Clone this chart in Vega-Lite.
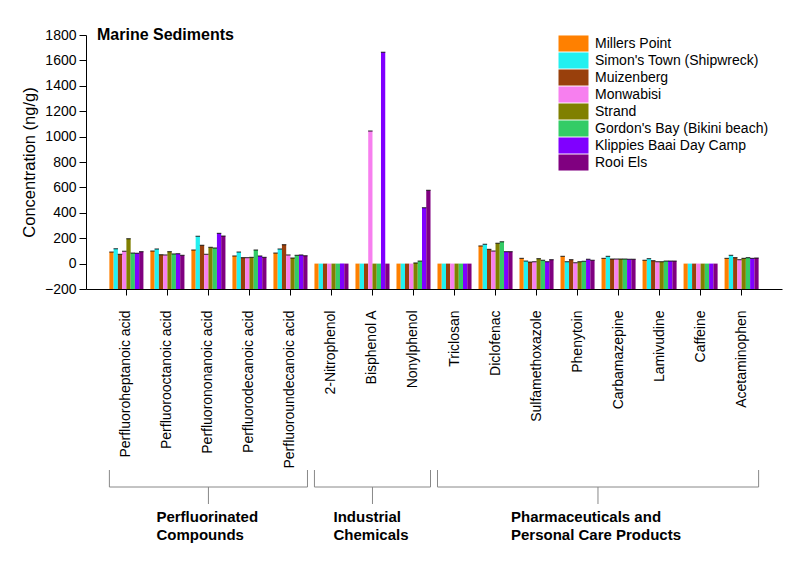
{
  "$schema": "https://vega.github.io/schema/vega-lite/v6.json",
  "background": "white",
  "padding": {"left": 21, "top": 27, "right": 5, "bottom": 5},
  "datasets": {
    "sediments": [
      {"compound": "Perfluoroheptanoic acid", "site": "Millers Point", "value": 91},
      {"compound": "Perfluoroheptanoic acid", "site": "Simon's Town (Shipwreck)", "value": 117},
      {"compound": "Perfluoroheptanoic acid", "site": "Muizenberg", "value": 73},
      {"compound": "Perfluoroheptanoic acid", "site": "Monwabisi", "value": 97},
      {"compound": "Perfluoroheptanoic acid", "site": "Strand", "value": 196},
      {"compound": "Perfluoroheptanoic acid", "site": "Gordon's Bay (Bikini beach)", "value": 83},
      {"compound": "Perfluoroheptanoic acid", "site": "Klippies Baai Day Camp", "value": 81},
      {"compound": "Perfluoroheptanoic acid", "site": "Rooi Els", "value": 94},
      {"compound": "Perfluorooctanoic acid", "site": "Millers Point", "value": 99},
      {"compound": "Perfluorooctanoic acid", "site": "Simon's Town (Shipwreck)", "value": 115},
      {"compound": "Perfluorooctanoic acid", "site": "Muizenberg", "value": 70},
      {"compound": "Perfluorooctanoic acid", "site": "Monwabisi", "value": 68},
      {"compound": "Perfluorooctanoic acid", "site": "Strand", "value": 94},
      {"compound": "Perfluorooctanoic acid", "site": "Gordon's Bay (Bikini beach)", "value": 76},
      {"compound": "Perfluorooctanoic acid", "site": "Klippies Baai Day Camp", "value": 78},
      {"compound": "Perfluorooctanoic acid", "site": "Rooi Els", "value": 65},
      {"compound": "Perfluorononanoic acid", "site": "Millers Point", "value": 107},
      {"compound": "Perfluorononanoic acid", "site": "Simon's Town (Shipwreck)", "value": 215},
      {"compound": "Perfluorononanoic acid", "site": "Muizenberg", "value": 144},
      {"compound": "Perfluorononanoic acid", "site": "Monwabisi", "value": 73},
      {"compound": "Perfluorononanoic acid", "site": "Strand", "value": 128},
      {"compound": "Perfluorononanoic acid", "site": "Gordon's Bay (Bikini beach)", "value": 123},
      {"compound": "Perfluorononanoic acid", "site": "Klippies Baai Day Camp", "value": 238},
      {"compound": "Perfluorononanoic acid", "site": "Rooi Els", "value": 217},
      {"compound": "Perfluorodecanoic acid", "site": "Millers Point", "value": 60},
      {"compound": "Perfluorodecanoic acid", "site": "Simon's Town (Shipwreck)", "value": 91},
      {"compound": "Perfluorodecanoic acid", "site": "Muizenberg", "value": 47},
      {"compound": "Perfluorodecanoic acid", "site": "Monwabisi", "value": 47},
      {"compound": "Perfluorodecanoic acid", "site": "Strand", "value": 49},
      {"compound": "Perfluorodecanoic acid", "site": "Gordon's Bay (Bikini beach)", "value": 107},
      {"compound": "Perfluorodecanoic acid", "site": "Klippies Baai Day Camp", "value": 60},
      {"compound": "Perfluorodecanoic acid", "site": "Rooi Els", "value": 49},
      {"compound": "Perfluoroundecanoic acid", "site": "Millers Point", "value": 83},
      {"compound": "Perfluoroundecanoic acid", "site": "Simon's Town (Shipwreck)", "value": 115},
      {"compound": "Perfluoroundecanoic acid", "site": "Muizenberg", "value": 149},
      {"compound": "Perfluoroundecanoic acid", "site": "Monwabisi", "value": 68},
      {"compound": "Perfluoroundecanoic acid", "site": "Strand", "value": 44},
      {"compound": "Perfluoroundecanoic acid", "site": "Gordon's Bay (Bikini beach)", "value": 65},
      {"compound": "Perfluoroundecanoic acid", "site": "Klippies Baai Day Camp", "value": 68},
      {"compound": "Perfluoroundecanoic acid", "site": "Rooi Els", "value": 62},
      {"compound": "2-Nitrophenol", "site": "Millers Point", "value": 0},
      {"compound": "2-Nitrophenol", "site": "Simon's Town (Shipwreck)", "value": 0},
      {"compound": "2-Nitrophenol", "site": "Muizenberg", "value": 0},
      {"compound": "2-Nitrophenol", "site": "Monwabisi", "value": 0},
      {"compound": "2-Nitrophenol", "site": "Strand", "value": 0},
      {"compound": "2-Nitrophenol", "site": "Gordon's Bay (Bikini beach)", "value": 0},
      {"compound": "2-Nitrophenol", "site": "Klippies Baai Day Camp", "value": 0},
      {"compound": "2-Nitrophenol", "site": "Rooi Els", "value": 0},
      {"compound": "Bisphenol A", "site": "Millers Point", "value": 0},
      {"compound": "Bisphenol A", "site": "Simon's Town (Shipwreck)", "value": 0},
      {"compound": "Bisphenol A", "site": "Muizenberg", "value": 0},
      {"compound": "Bisphenol A", "site": "Monwabisi", "value": 1044},
      {"compound": "Bisphenol A", "site": "Strand", "value": 0},
      {"compound": "Bisphenol A", "site": "Gordon's Bay (Bikini beach)", "value": 0},
      {"compound": "Bisphenol A", "site": "Klippies Baai Day Camp", "value": 1664},
      {"compound": "Bisphenol A", "site": "Rooi Els", "value": 0},
      {"compound": "Nonylphenol", "site": "Millers Point", "value": 0},
      {"compound": "Nonylphenol", "site": "Simon's Town (Shipwreck)", "value": 0},
      {"compound": "Nonylphenol", "site": "Muizenberg", "value": 0},
      {"compound": "Nonylphenol", "site": "Monwabisi", "value": 0},
      {"compound": "Nonylphenol", "site": "Strand", "value": 5},
      {"compound": "Nonylphenol", "site": "Gordon's Bay (Bikini beach)", "value": 20},
      {"compound": "Nonylphenol", "site": "Klippies Baai Day Camp", "value": 440},
      {"compound": "Nonylphenol", "site": "Rooi Els", "value": 577},
      {"compound": "Triclosan", "site": "Millers Point", "value": 0},
      {"compound": "Triclosan", "site": "Simon's Town (Shipwreck)", "value": 0},
      {"compound": "Triclosan", "site": "Muizenberg", "value": 0},
      {"compound": "Triclosan", "site": "Monwabisi", "value": 0},
      {"compound": "Triclosan", "site": "Strand", "value": 0},
      {"compound": "Triclosan", "site": "Gordon's Bay (Bikini beach)", "value": 0},
      {"compound": "Triclosan", "site": "Klippies Baai Day Camp", "value": 0},
      {"compound": "Triclosan", "site": "Rooi Els", "value": 0},
      {"compound": "Diclofenac", "site": "Millers Point", "value": 139},
      {"compound": "Diclofenac", "site": "Simon's Town (Shipwreck)", "value": 152},
      {"compound": "Diclofenac", "site": "Muizenberg", "value": 112},
      {"compound": "Diclofenac", "site": "Monwabisi", "value": 99},
      {"compound": "Diclofenac", "site": "Strand", "value": 160},
      {"compound": "Diclofenac", "site": "Gordon's Bay (Bikini beach)", "value": 172},
      {"compound": "Diclofenac", "site": "Klippies Baai Day Camp", "value": 94},
      {"compound": "Diclofenac", "site": "Rooi Els", "value": 94},
      {"compound": "Sulfamethoxazole", "site": "Millers Point", "value": 41},
      {"compound": "Sulfamethoxazole", "site": "Simon's Town (Shipwreck)", "value": 20},
      {"compound": "Sulfamethoxazole", "site": "Muizenberg", "value": 12},
      {"compound": "Sulfamethoxazole", "site": "Monwabisi", "value": 15},
      {"compound": "Sulfamethoxazole", "site": "Strand", "value": 39},
      {"compound": "Sulfamethoxazole", "site": "Gordon's Bay (Bikini beach)", "value": 26},
      {"compound": "Sulfamethoxazole", "site": "Klippies Baai Day Camp", "value": 15},
      {"compound": "Sulfamethoxazole", "site": "Rooi Els", "value": 31},
      {"compound": "Phenytoin", "site": "Millers Point", "value": 57},
      {"compound": "Phenytoin", "site": "Simon's Town (Shipwreck)", "value": 15},
      {"compound": "Phenytoin", "site": "Muizenberg", "value": 31},
      {"compound": "Phenytoin", "site": "Monwabisi", "value": 7},
      {"compound": "Phenytoin", "site": "Strand", "value": 15},
      {"compound": "Phenytoin", "site": "Gordon's Bay (Bikini beach)", "value": 18},
      {"compound": "Phenytoin", "site": "Klippies Baai Day Camp", "value": 34},
      {"compound": "Phenytoin", "site": "Rooi Els", "value": 26},
      {"compound": "Carbamazepine", "site": "Millers Point", "value": 41},
      {"compound": "Carbamazepine", "site": "Simon's Town (Shipwreck)", "value": 57},
      {"compound": "Carbamazepine", "site": "Muizenberg", "value": 36},
      {"compound": "Carbamazepine", "site": "Monwabisi", "value": 36},
      {"compound": "Carbamazepine", "site": "Strand", "value": 36},
      {"compound": "Carbamazepine", "site": "Gordon's Bay (Bikini beach)", "value": 36},
      {"compound": "Carbamazepine", "site": "Klippies Baai Day Camp", "value": 34},
      {"compound": "Carbamazepine", "site": "Rooi Els", "value": 34},
      {"compound": "Lamivudine", "site": "Millers Point", "value": 26},
      {"compound": "Lamivudine", "site": "Simon's Town (Shipwreck)", "value": 39},
      {"compound": "Lamivudine", "site": "Muizenberg", "value": 23},
      {"compound": "Lamivudine", "site": "Monwabisi", "value": 15},
      {"compound": "Lamivudine", "site": "Strand", "value": 15},
      {"compound": "Lamivudine", "site": "Gordon's Bay (Bikini beach)", "value": 20},
      {"compound": "Lamivudine", "site": "Klippies Baai Day Camp", "value": 20},
      {"compound": "Lamivudine", "site": "Rooi Els", "value": 20},
      {"compound": "Caffeine", "site": "Millers Point", "value": 0},
      {"compound": "Caffeine", "site": "Simon's Town (Shipwreck)", "value": 0},
      {"compound": "Caffeine", "site": "Muizenberg", "value": 0},
      {"compound": "Caffeine", "site": "Monwabisi", "value": 0},
      {"compound": "Caffeine", "site": "Strand", "value": 0},
      {"compound": "Caffeine", "site": "Gordon's Bay (Bikini beach)", "value": 0},
      {"compound": "Caffeine", "site": "Klippies Baai Day Camp", "value": 0},
      {"compound": "Caffeine", "site": "Rooi Els", "value": 0},
      {"compound": "Acetaminophen", "site": "Millers Point", "value": 41},
      {"compound": "Acetaminophen", "site": "Simon's Town (Shipwreck)", "value": 65},
      {"compound": "Acetaminophen", "site": "Muizenberg", "value": 47},
      {"compound": "Acetaminophen", "site": "Monwabisi", "value": 31},
      {"compound": "Acetaminophen", "site": "Strand", "value": 41},
      {"compound": "Acetaminophen", "site": "Gordon's Bay (Bikini beach)", "value": 47},
      {"compound": "Acetaminophen", "site": "Klippies Baai Day Camp", "value": 41},
      {"compound": "Acetaminophen", "site": "Rooi Els", "value": 44}
    ],
    "groups": [
      {"group": "Perfluorinated\nCompounds", "start": "Perfluoroheptanoic acid", "end": "Perfluoroundecanoic acid", "mid": "Perfluorononanoic acid"},
      {"group": "Industrial\nChemicals", "start": "2-Nitrophenol", "end": "Nonylphenol", "mid": "Bisphenol A"},
      {"group": "Pharmaceuticals and\nPersonal Care Products", "start": "Triclosan", "end": "Acetaminophen", "mid": "Phenytoin"}
    ]
  },
  "bounds": "flush",
  "spacing": 177,
  "resolve": {"scale": {"x": "independent", "y": "independent"}},
  "vconcat": [
    {
      "width": 696,
      "height": 254,
      "title": {
        "text": "Marine Sediments",
        "anchor": "start",
        "frame": "group",
        "dx": 11,
        "offset": -23,
        "baseline": "middle",
        "fontSize": 16,
        "fontWeight": "bold",
        "color": "black"
      },
      "data": {"name": "sediments"},
      "encoding": {
        "x": {
          "field": "compound",
          "type": "nominal",
          "sort": null,
          "scale": {
            "domain": ["Perfluoroheptanoic acid", "Perfluorooctanoic acid", "Perfluorononanoic acid", "Perfluorodecanoic acid", "Perfluoroundecanoic acid", "2-Nitrophenol", "Bisphenol A", "Nonylphenol", "Triclosan", "Diclofenac", "Sulfamethoxazole", "Phenytoin", "Carbamazepine", "Lamivudine", "Caffeine", "Acetaminophen"],
            "paddingInner": 0.17,
            "paddingOuter": 0.57
          },
          "axis": {"title": null, "labelAngle": -90, "labelFontSize": 14, "labelPadding": 15, "tickSize": 6}
        },
        "xOffset": {
          "field": "site",
          "type": "nominal",
          "sort": null,
          "scale": {"paddingInner": 0, "paddingOuter": 0}
        },
        "y": {
          "field": "value",
          "type": "quantitative",
          "scale": {"domain": [-200, 1800], "zero": false, "nice": false},
          "axis": {
            "title": "Concentration (ng/g)",
            "format": "d",
            "values": [-200, 0, 200, 400, 600, 800, 1000, 1200, 1400, 1600, 1800],
            "labelFontSize": 14,
            "labelPadding": 3,
            "titleFontSize": 16.5,
            "titleFontWeight": "normal",
            "titlePadding": 7,
            "tickSize": 7
          }
        }
      },
      "layer": [
        {
          "mark": {"type": "bar"},
          "encoding": {
            "y2": {"datum": -200},
            "color": {
              "field": "site",
              "type": "nominal",
              "sort": null,
              "title": null,
              "scale": {
                "domain": ["Millers Point", "Simon's Town (Shipwreck)", "Muizenberg", "Monwabisi", "Strand", "Gordon's Bay (Bikini beach)", "Klippies Baai Day Camp", "Rooi Els"],
                "range": ["#FF8000", "#22F0F0", "#99400C", "#F77FEF", "#808000", "#33CC66", "#8000FF", "#800080"]
              },
              "legend": {
                "orient": "none",
                "legendX": 480,
                "legendY": 1,
                "symbolType": "M-2,-1.07H2V1.07H-2Z",
                "symbolSize": 225,
                "symbolOpacity": 1,
                "symbolStrokeWidth": 0,
                "labelFontSize": 14,
                "labelOffset": 14,
                "labelLimit": 300,
                "rowPadding": 0,
                "padding": 0
              }
            }
          }
        },
        {
          "transform": [{"filter": "datum.value > 0"}],
          "mark": {"type": "tick", "color": "black", "thickness": 1.2, "size": 4.5}
        }
      ]
    },
    {
      "width": 696,
      "height": 80,
      "data": {"name": "groups"},
      "layer": [
        {
          "mark": {"type": "rule", "color": "#888888"},
          "encoding": {
            "x": {
              "field": "start",
              "type": "nominal",
              "bandPosition": 0,
              "scale": {
                "domain": ["Perfluoroheptanoic acid", "Perfluorooctanoic acid", "Perfluorononanoic acid", "Perfluorodecanoic acid", "Perfluoroundecanoic acid", "2-Nitrophenol", "Bisphenol A", "Nonylphenol", "Triclosan", "Diclofenac", "Sulfamethoxazole", "Phenytoin", "Carbamazepine", "Lamivudine", "Caffeine", "Acetaminophen"],
                "paddingInner": 0.17,
                "paddingOuter": 0.57
              },
              "axis": null
            },
            "y": {"datum": 4, "type": "quantitative", "scale": {"domain": [0, 80], "reverse": true}, "axis": null},
            "y2": {"datum": 21}
          }
        },
        {
          "mark": {"type": "rule", "color": "#888888"},
          "encoding": {
            "x": {"field": "end", "type": "nominal", "bandPosition": 1},
            "y": {"datum": 4, "type": "quantitative"},
            "y2": {"datum": 21}
          }
        },
        {
          "mark": {"type": "rule", "color": "#888888"},
          "encoding": {
            "x": {"field": "start", "type": "nominal", "bandPosition": 0},
            "x2": {"field": "end", "bandPosition": 1},
            "y": {"datum": 21, "type": "quantitative"}
          }
        },
        {
          "transform": [{"filter": "indexof(datum.group, 'Pharmaceuticals') < 0"}],
          "mark": {"type": "rule", "color": "#888888"},
          "encoding": {
            "x": {"field": "mid", "type": "nominal", "bandPosition": 0.5},
            "y": {"datum": 21, "type": "quantitative"},
            "y2": {"datum": 38}
          }
        },
        {
          "transform": [{"filter": "indexof(datum.group, 'Pharmaceuticals') >= 0"}],
          "mark": {"type": "rule", "color": "#888888"},
          "encoding": {
            "x": {"field": "mid", "type": "nominal", "bandPosition": 1.1},
            "y": {"datum": 21, "type": "quantitative"},
            "y2": {"datum": 38}
          }
        },
        {
          "transform": [{"filter": "indexof(datum.group, 'Perfluorinated') >= 0"}],
          "mark": {"type": "text", "fontSize": 15, "fontWeight": "bold", "baseline": "alphabetic", "align": "left", "dx": -52, "lineBreak": "\n", "lineHeight": 18, "color": "black"},
          "encoding": {
            "x": {"field": "mid", "type": "nominal", "bandPosition": 0.5},
            "y": {"datum": 56, "type": "quantitative"},
            "text": {"field": "group"}
          }
        },
        {
          "transform": [{"filter": "indexof(datum.group, 'Industrial') >= 0"}],
          "mark": {"type": "text", "fontSize": 15, "fontWeight": "bold", "baseline": "alphabetic", "align": "left", "dx": -39, "lineBreak": "\n", "lineHeight": 18, "color": "black"},
          "encoding": {
            "x": {"field": "mid", "type": "nominal", "bandPosition": 0.5},
            "y": {"datum": 56, "type": "quantitative"},
            "text": {"field": "group"}
          }
        },
        {
          "transform": [{"filter": "indexof(datum.group, 'Pharmaceuticals') >= 0"}],
          "mark": {"type": "text", "fontSize": 15, "fontWeight": "bold", "baseline": "alphabetic", "align": "left", "dx": -87, "lineBreak": "\n", "lineHeight": 18, "color": "black"},
          "encoding": {
            "x": {"field": "mid", "type": "nominal", "bandPosition": 1.1},
            "y": {"datum": 56, "type": "quantitative"},
            "text": {"field": "group"}
          }
        }
      ]
    }
  ],
  "config": {
    "font": "Liberation Sans",
    "view": {"stroke": null},
    "axis": {
      "grid": false,
      "domainColor": "black",
      "tickColor": "black",
      "labelColor": "black",
      "titleColor": "black",
      "labelFont": "Liberation Sans",
      "titleFont": "Liberation Sans"
    },
    "legend": {"labelColor": "black", "labelFont": "Liberation Sans"}
  }
}
